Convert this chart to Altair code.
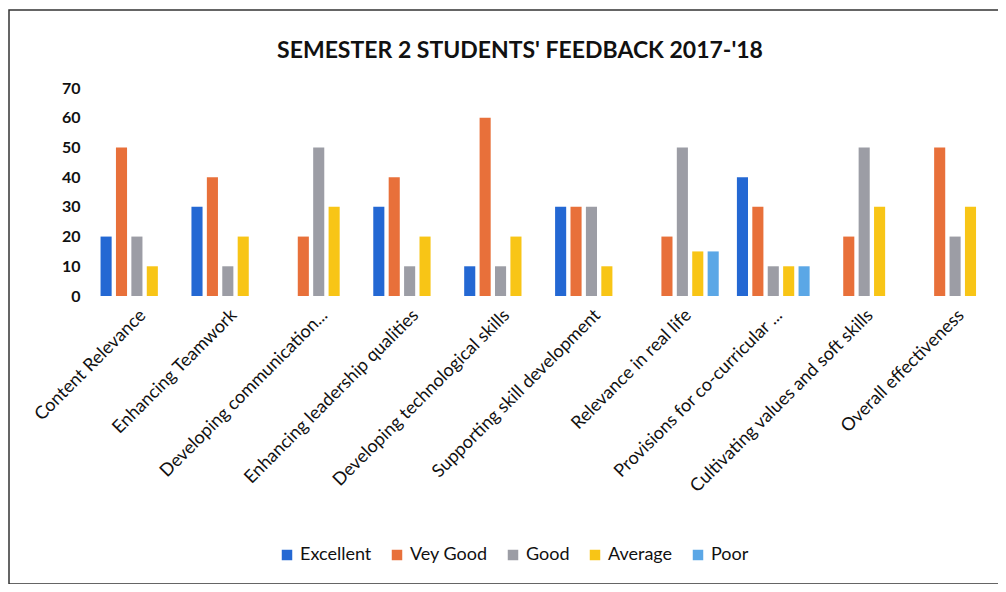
import altair as alt
import pandas as pd

categories = [
    "Content Relevance",
    "Enhancing Teamwork",
    "Developing communication...",
    "Enhancing leadership qualities",
    "Developing technological skills",
    "Supporting skill development",
    "Relevance in real life",
    "Provisions for co-curricular ...",
    "Cultivating values and soft skills",
    "Overall effectiveness",
]
series = ["Excellent", "Vey Good", "Good", "Average", "Poor"]

excellent = [20, 30, 0, 30, 10, 30, 0, 40, 0, 0]
very_good = [50, 40, 20, 40, 60, 30, 20, 30, 20, 50]
good = [20, 10, 50, 10, 10, 30, 50, 10, 50, 20]
average = [10, 20, 30, 20, 20, 10, 15, 10, 30, 30]
poor = [0, 0, 0, 0, 0, 0, 15, 10, 0, 0]

title_text = "SEMESTER 2 STUDENTS' FEEDBACK 2017-'18"
colors = ["#2468D3", "#E8703A", "#9C9DA5", "#F8C516", "#5BA7E6"]

rows = []
for s, vals in zip(series, [excellent, very_good, good, average, poor]):
    for c, v in zip(categories, vals):
        if v > 0:
            rows.append({"Category": c, "Series": s, "Value": v})
df = pd.DataFrame(rows)

FONT = "Lato"

bars = alt.Chart(df).mark_bar().encode(
    x=alt.X("Category:N", sort=categories, title=None,
            scale=alt.Scale(paddingInner=0.2, paddingOuter=0.05),
            axis=alt.Axis(labelAngle=-45, labelFontSize=18, labelFont=FONT,
                          labelColor="#111111", domain=False, ticks=False,
                          labelPadding=10, labelLimit=400)),
    xOffset=alt.XOffset("Series:N", sort=series,
                        scale=alt.Scale(domain=series, paddingInner=0.28)),
    y=alt.Y("Value:Q", title=None,
            scale=alt.Scale(domain=[0, 70]),
            axis=alt.Axis(values=[0, 10, 20, 30, 40, 50, 60, 70], grid=False,
                          domain=False, ticks=False, labelFontSize=16,
                          labelFont=FONT, labelFontWeight="bold",
                          labelColor="#111111", labelPadding=16)),
    color=alt.Color("Series:N", sort=series,
                    scale=alt.Scale(domain=series, range=colors),
                    legend=alt.Legend(title=None, orient="none", direction="horizontal",
                                      legendX=182, legendY=458,
                                      symbolType="square", symbolSize=110,
                                      labelFontSize=18, labelFont=FONT,
                                      labelColor="#111111", columnPadding=16,
                                      symbolStrokeWidth=0)),
)

frame = alt.Chart(pd.DataFrame({"k": [0]})).mark_rect(
    fill=None, stroke="#333333", strokeWidth=1.5, clip=False
).encode(
    x=alt.value(-87), x2=alt.value(960), y=alt.value(-78), y2=alt.value(496)
)

title = alt.Chart(pd.DataFrame({"t": [title_text]})).mark_text(
    font=FONT, fontSize=23, fontWeight="bold", color="#111111",
    align="center", baseline="middle", clip=False
).encode(
    text="t:N", x=alt.value(424), y=alt.value(-37)
)

chart = alt.layer(frame, bars, title).properties(
    width=900, height=208,
    autosize=alt.AutoSizeParams(type="none"),
    padding={"left": 88, "top": 80, "right": 2, "bottom": 288},
).configure_view(stroke=None)

chart.save("out.html", embed_options={"renderer": "svg", "actions": False})
